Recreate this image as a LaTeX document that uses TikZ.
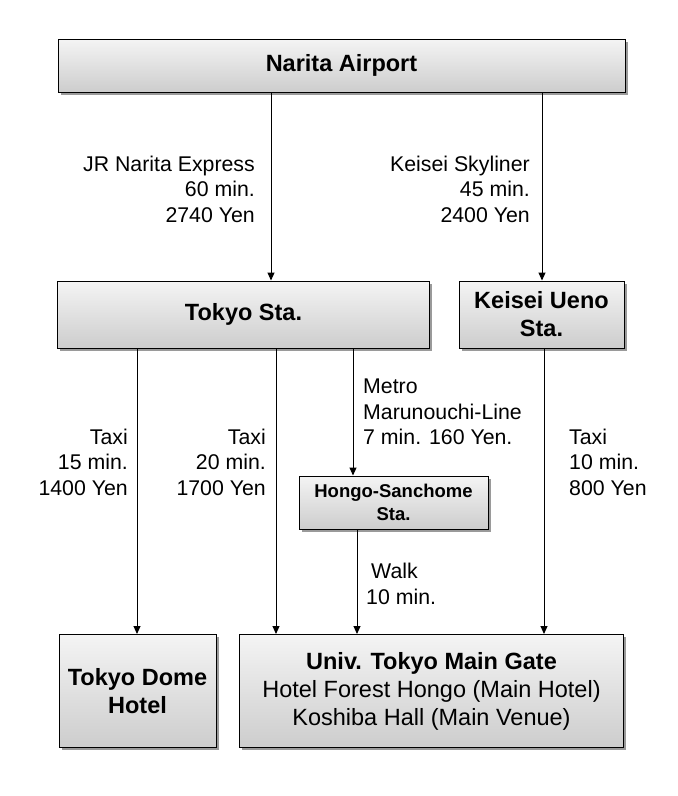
\documentclass[tikz,border=0pt]{standalone}
\usepackage{fontspec}
\setmainfont{Liberation Sans}
\usepackage{xcolor}
\definecolor{boxtop}{HTML}{F4F4F4}
\definecolor{boxbot}{HTML}{CDCDCD}
\definecolor{shade}{HTML}{9A9A9A}
\usepackage{tikz}
\usetikzlibrary{arrows.meta,shadows}
\tikzset{
  >={Triangle[length=8pt,width=7pt]},
  stn/.style    ={draw=black,line width=1pt,top color=boxtop,bottom color=boxbot,
                  drop shadow={shadow xshift=2.5pt,shadow yshift=-2.5pt,fill=shade,opacity=1},
                  font=\fontsize{23.5}{28}\selectfont\bfseries,align=center,inner sep=0pt},
  lbl/.style    ={font=\fontsize{21.3}{25.5}\selectfont,inner sep=0pt},
  route/.style  ={->,draw=black,line width=1pt},
}
\begin{document}
\begin{tikzpicture}[x=1pt,y=-1pt]
\useasboundingbox (0,0) rectangle (678,796);
% stations
\node[stn,minimum width=567pt,minimum height=53pt] (narita) at (341.5,65.5) {Narita Airport};
\node[stn,minimum width=372pt,minimum height=67pt] (tokyo)  at (243.5,314.5)  {Tokyo Sta.};
\node[stn,minimum width=165pt,minimum height=67pt] (keisei) at (541.5,314.5) {Keisei Ueno\\Sta.};
\node[stn,minimum width=189pt,minimum height=53pt,font=\fontsize{18.5}{22.5}\selectfont\bfseries]
  (hongo) at (393.5,502.5) {Hongo-Sanchome\\Sta.};
\node[stn,minimum width=157pt,minimum height=113pt] (dome) at (137.5,691) {Tokyo Dome\\Hotel};
\node[stn,minimum width=384pt,minimum height=113pt] (univ) at (431.5,691)
  {Univ. Tokyo Main Gate\\\mdseries Hotel Forest Hongo (Main Hotel)\\\mdseries Koshiba Hall (Main Venue)};
% routes
\draw[route] (narita.south -| 271,0) -- (tokyo.north -| 271,0);
\draw[route] (narita.south -| 542,0) -- (keisei.north -| 542,0);
\draw[route] (tokyo.south -| 137,0) -- (dome.north -| 137,0);
\draw[route] (tokyo.south -| 276,0) -- (univ.north -| 276,0);
\draw[route] (tokyo.south -| 353,0) -- (hongo.north -| 353,0);
\draw[route] (hongo.south -| 357,0) -- (univ.north -| 357,0);
\draw[route] (keisei.south -| 544,0) -- (univ.north -| 544,0);
% fares
\node[lbl,align=right,anchor=east] (jr)   at (255,189) {JR Narita Express\\60 min.\\2740 Yen};
\node[lbl,align=right,anchor=east] (sky)  at (530,189) {Keisei Skyliner\\45 min.\\2400 Yen};
\node[lbl,align=right,anchor=east] (tx15) at (128,462) {Taxi\\15 min.\\1400 Yen};
\node[lbl,align=right,anchor=east] (tx20) at (266,462) {Taxi\\20 min.\\1700 Yen};
\node[lbl,align=left,anchor=west]  (metro) at (363,412) {Metro\\Marunouchi-Line\\7 min. 160 Yen.};
\node[lbl,align=left,anchor=west]  (tx10) at (569,462) {Taxi\\10 min.\\800 Yen};
\node[lbl,align=left,anchor=west]  (walk) at (366,584) {\hspace*{5pt}Walk\\10 min.};
\end{tikzpicture}
\end{document}
